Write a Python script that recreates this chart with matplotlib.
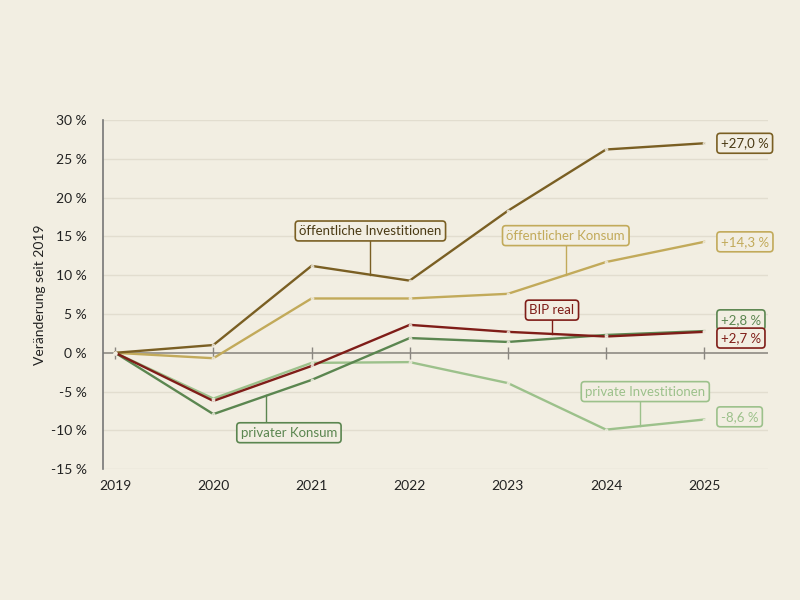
import matplotlib.pyplot as plt

plt.rcParams['font.family'] = ['Lato', 'DejaVu Sans']

years = [2019, 2020, 2021, 2022, 2023, 2024, 2025]
oeff_inv = [0, 1.0, 11.2, 9.3, 18.3, 26.2, 27.0]
oeff_konsum = [0, -0.7, 7.0, 7.0, 7.6, 11.7, 14.3]
bip_real = [0, -6.2, -1.7, 3.6, 2.7, 2.1, 2.7]
priv_konsum = [0, -7.9, -3.5, 1.9, 1.4, 2.3, 2.8]
priv_inv = [0, -5.9, -1.3, -1.2, -3.9, -9.9, -8.6]

yticks = [-15, -10, -5, 0, 5, 10, 15, 20, 25, 30]

bg = '#f2eee2'
c_inv = '#7a5f23'
c_kon = '#c2aa5a'
c_bip = '#7f1d18'
c_pk = '#5b8650'
c_pi = '#9cc18b'

fig = plt.figure(figsize=(8, 6), dpi=100, facecolor=bg)
ax = fig.add_axes([0.129, 0.218, 0.831, 0.582], facecolor=bg)

for v in yticks:
    if v != 0:
        ax.axhline(v, color='#e2ddcf', lw=1, zorder=0)
ax.axhline(0, color='#8f8b84', lw=1.2, zorder=1)
ax.plot(years, [0] * len(years), ls='none', marker='|', ms=9, mew=1, color='#8a8680', zorder=1)

series = [
    (priv_inv, c_pi),
    (oeff_konsum, c_kon),
    (oeff_inv, c_inv),
    (priv_konsum, c_pk),
    (bip_real, c_bip),
]
for vals, col in series:
    ax.plot(years, vals, color=col, lw=1.7, zorder=3)
    ax.plot(years, vals, ls='none', marker='o', ms=1.8, color='#f2eee2', alpha=0.7, zorder=4)

ax.set_xlim(2018.878, 2025.65)
ax.set_ylim(-15, 30)
ax.set_yticks(yticks)
ax.set_yticklabels([f'{v} %' for v in yticks])
ax.set_xticks(years)
ax.set_xticklabels([str(y) for y in years])
ax.tick_params(axis='both', length=0, labelsize=10, colors='#222222')
ax.tick_params(axis='y', pad=12)
ax.tick_params(axis='x', pad=8)
for s in ['top', 'right', 'bottom']:
    ax.spines[s].set_visible(False)
ax.spines['left'].set_color('#777777')
ax.spines['left'].set_linewidth(1.2)
ax.set_ylabel('Veränderung seit 2019', fontsize=10, color='#222222', labelpad=3)


def label(x, y, text, col, x0, y0, y1, tcol=None):
    ax.plot([x0, x0], [y0, y1], color=col, lw=1, zorder=2)
    ax.text(x, y, text, color=tcol or col, fontsize=9.5, ha='center', va='center', zorder=6,
            bbox=dict(boxstyle='round,pad=0.3,rounding_size=0.25', fc=bg, ec=col, lw=1.2))


label(2021.6, 15.7, 'öffentliche Investitionen', c_inv, 2021.6, 15.0, 10.05, '#4a3a14')
label(2023.59, 15.1, 'öffentlicher Konsum', c_kon, 2023.59, 14.5, 10.0)
label(2023.45, 5.5, 'BIP real', c_bip, 2023.45, 4.8, 2.43)
label(2020.77, -10.3, 'privater Konsum', c_pk, 2020.54, -9.5, -5.5)
label(2024.4, -5.0, 'private Investitionen', c_pi, 2024.35, -5.7, -9.45)

ends = [
    (27.0, 27.0, '+27,0 %', c_inv, '#4a3a14'),
    (14.3, 14.3, '+14,3 %', c_kon, c_kon),
    (2.8, 4.25, '+2,8 %', c_pk, c_pk),
    (2.7, 1.9, '+2,7 %', c_bip, c_bip),
    (-8.6, -8.25, '-8,6 %', c_pi, c_pi),
]
for v, ypos, txt, col, tcol in ends:
    ax.text(2025.17, ypos, txt, color=tcol, fontsize=9.5, ha='left', va='center', zorder=6,
            bbox=dict(boxstyle='round,pad=0.3,rounding_size=0.25', fc=bg, ec=col, lw=1.2))

fig.savefig('out.png', dpi=100, facecolor=bg)
